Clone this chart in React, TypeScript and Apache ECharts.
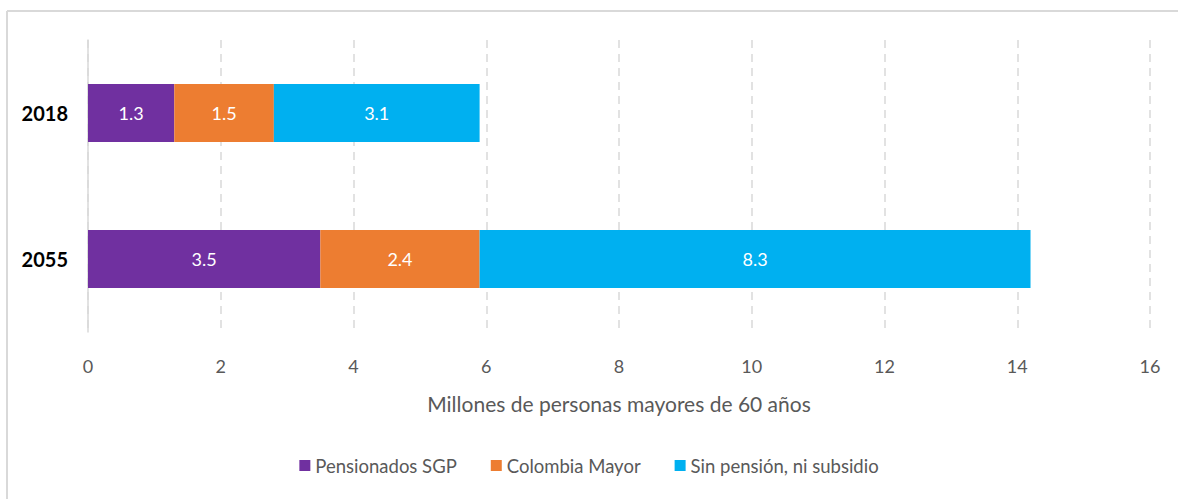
import React, { useEffect, useRef } from "react";
import * as echarts from "echarts";

const categories = ["2018", "2055"];
const seriesNames = ["Pensionados SGP", "Colombia Mayor", "Sin pensión, ni subsidio"];
const pensionados = [1.3, 3.5];
const colombiaMayor = [1.5, 2.4];
const sinPension = [3.1, 8.3];
const colors = ["#7030a0", "#ed7d31", "#00b0f0"];
const axisName = "Millones de personas mayores de 60 años";

export default function App() {
  const ref = useRef<HTMLDivElement>(null);
  useEffect(() => {
    document.body.style.margin = "0";
    const chart = echarts.init(ref.current!, null, { renderer: "svg" });
    const font = "Lato, 'Open Sans', sans-serif";
    const mk = (name: string, data: number[], color: string) => ({
      name,
      type: "bar",
      stack: "total",
      data,
      barWidth: 58,
      itemStyle: { color },
      label: {
        show: true,
        position: "inside",
        color: "#ffffff",
        fontSize: 18,
        fontFamily: font,
        formatter: (p: any) => p.value.toFixed(1),
      },
    });
    chart.setOption({
      animation: false,
      backgroundColor: "#ffffff",
      textStyle: { fontFamily: font },
      grid: { left: 88, right: 28, top: 40, bottom: 167, containLabel: false },
      xAxis: {
        type: "value",
        min: 0,
        max: 16,
        interval: 2,
        axisLine: { show: false },
        axisTick: { show: false },
        axisLabel: { color: "#595959", fontSize: 18, fontFamily: font, margin: 25 },
        splitLine: { show: true, lineStyle: { color: "#d9d9d9", type: [8, 6], width: 1.5 } },
        name: axisName,
        nameLocation: "middle",
        nameGap: 61,
        nameTextStyle: { color: "#595959", fontSize: 21, fontFamily: font },
      },
      yAxis: {
        type: "category",
        data: categories,
        inverse: true,
        axisLine: { show: true, lineStyle: { color: "#d9d9d9", width: 1.5 } },
        axisTick: { show: false },
        axisLabel: { color: "#000000", fontSize: 20, fontWeight: "bold", fontFamily: font, margin: 20 },
      },
      legend: {
        bottom: 19,
        left: "center",
        itemWidth: 11,
        itemHeight: 11,
        itemGap: 34,
        icon: "rect",
        textStyle: { color: "#595959", fontSize: 18.5, fontFamily: font },
        data: seriesNames,
      },
      series: [
        mk(seriesNames[0], pensionados, colors[0]),
        mk(seriesNames[1], colombiaMayor, colors[1]),
        mk(seriesNames[2], sinPension, colors[2]),
      ],
      graphic: [
        { type: "line", shape: { x1: 7, y1: 11, x2: 1178, y2: 11 }, style: { stroke: "#d9d9d9", lineWidth: 2 } },
        { type: "line", shape: { x1: 7, y1: 11, x2: 7, y2: 499 }, style: { stroke: "#d9d9d9", lineWidth: 2 } },
      ],
    });
    return () => chart.dispose();
  }, []);
  return <div ref={ref} style={{ width: 1178, height: 499 }} />;
}
